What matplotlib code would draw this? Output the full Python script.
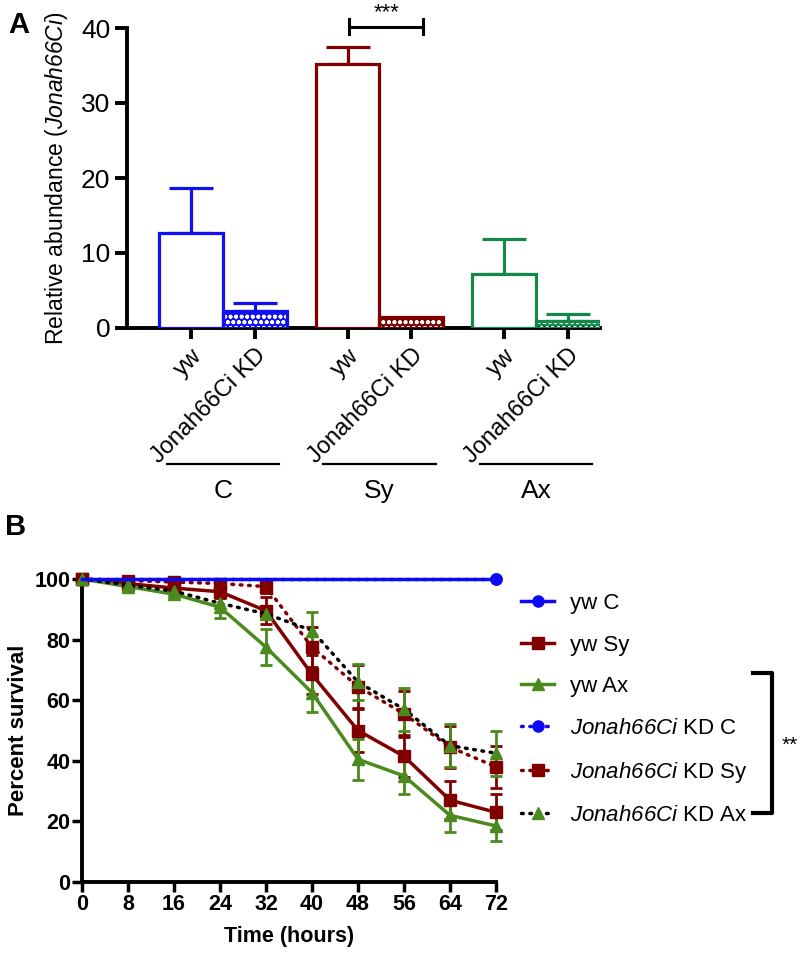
import numpy as np
import matplotlib
matplotlib.use('Agg')
import matplotlib.pyplot as plt
from matplotlib.lines import Line2D

plt.rcParams['font.family'] = ['Liberation Sans', 'DejaVu Sans']
plt.rcParams['mathtext.fontset'] = 'custom'
plt.rcParams['mathtext.rm'] = 'Liberation Sans:italic'
plt.rcParams['mathtext.it'] = 'Liberation Sans:italic'
plt.rcParams['mathtext.bf'] = 'Liberation Sans:bold:italic'
plt.rcParams['hatch.linewidth'] = 1.2

# ---- panel A data ----
groups = ['C', 'Sy', 'Ax']
strain_labels = ['yw', 'Jonah66Ci KD', 'yw', 'Jonah66Ci KD', 'yw', 'Jonah66Ci KD']
abund_mean = [12.6, 2.2, 35.2, 1.5, 7.2, 0.9]
abund_err = [6.1, 1.1, 2.2, 0.0, 4.6, 1.0]
is_kd = [False, True, False, True, False, True]
bar_colors = ['#1010F0', '#1010F0', '#800000', '#800000', '#14874A', '#14874A']

# ---- panel B data ----
hours = [0, 8, 16, 24, 32, 40, 48, 56, 64, 72]
yw_c = [100, 100, 100, 100, 100, 100, 100, 100, 100, 100]
yw_sy = [100, 98.5, 97, 95.8, 89.5, 68.5, 50, 41.5, 27, 23]
yw_sy_err = [0, 0, 0, 2, 4.5, 6.5, 7, 7, 6.3, 6]
yw_ax = [100, 97.5, 95, 90.7, 77.5, 62.5, 40.5, 35, 22, 18.5]
yw_ax_err = [0, 0, 1, 3.5, 6, 6.5, 6.7, 6, 5.5, 5]
kd_c = [100, 100, 100, 100, 100, 100, 100, 100, 100, 100]
kd_sy = [100, 99.5, 99, 98.5, 97.5, 77.5, 64.5, 55.5, 44.5, 38]
kd_sy_err = [0, 0, 0, 1, 2, 6.5, 7, 7.5, 7, 7]
kd_ax = [100, 98, 96, 92, 88.5, 83, 66, 57, 45, 42.5]
kd_ax_err = [0, 0, 0, 0, 1.5, 6, 6, 7, 7, 7.5]

red = '#800000'
greenB = '#4B8A1C'
blue = '#0A0AF5'

fig = plt.figure(figsize=(8, 9.58), dpi=100)

# ================= panel A =================
axA = fig.add_axes([127/800, 1-328/958, (600-127)/800, 300/958])
x_pos = [1, 2, 3.45, 4.45, 5.9, 6.9]
for x, m, e, c, kd in zip(x_pos, abund_mean, abund_err, bar_colors, is_kd):
    if kd:
        axA.bar(x, m, width=1, color=c, lw=0, zorder=2)
        axA.bar(x, m, width=1, facecolor='none', edgecolor='white', hatch='ooo', lw=0, zorder=3)
    axA.bar(x, m, width=1, facecolor='none' if kd else 'white', edgecolor=c, lw=2.3, zorder=4)
    if e > 0:
        axA.errorbar(x, m, yerr=[[0], [e]], fmt='none', ecolor=c, elinewidth=2.3,
                     capsize=16, capthick=2.3, zorder=3)

axA.set_xlim(0, 7.4)
axA.set_ylim(0, 40)
axA.set_yticks([0, 10, 20, 30, 40])
axA.set_xticks(x_pos)
axA.set_xticklabels(strain_labels, rotation=45, ha='right', rotation_mode='anchor', fontsize=17)
axA.tick_params(axis='y', labelsize=19, length=9, width=2.8, pad=3)
axA.tick_params(axis='x', length=8, width=2.8, pad=4)
for s in ['top', 'right']:
    axA.spines[s].set_visible(False)
for s in ['left', 'bottom']:
    axA.spines[s].set_linewidth(2.8)
axA.set_ylabel(r'Relative abundance ($Jonah66Ci$)', fontsize=16.5, labelpad=8)

# significance bracket
bx0, bx1, by = x_pos[2] + 0.03, x_pos[3] + 0.18, 40.2
axA.plot([bx0, bx1], [by, by], color='black', lw=2.2, clip_on=False)
axA.plot([bx0, bx0], [by - 1.0, by + 1.0], color='black', lw=2.2, clip_on=False)
axA.plot([bx1, bx1], [by - 1.0, by + 1.0], color='black', lw=2.2, clip_on=False)
axA.text((bx0 + bx1) / 2, by + 0.4, '***', ha='center', va='bottom', fontsize=16)

# group lines and labels
for i, g in enumerate(groups):
    gc = (x_pos[2*i] + x_pos[2*i + 1]) / 2
    axA.plot([gc - 0.88, gc + 0.88], [-0.455, -0.455], color='black', lw=1.6,
             transform=axA.get_xaxis_transform(), clip_on=False)
    axA.text(gc, -0.545, g, ha='center', va='center', fontsize=19,
             transform=axA.get_xaxis_transform())

# ================= panel B =================
axB = fig.add_axes([82/800, 1-882/958, (496-82)/800, (882-579)/958])
dot = (0, (0.5, 1.9))

series = [
    (yw_sy, yw_sy_err, red, '-', 's', red, 'yw Sy'),
    (yw_ax, yw_ax_err, greenB, '-', '^', greenB, 'yw Ax'),
    (kd_sy, kd_sy_err, red, dot, 's', red, r'$Jonah66Ci$ KD Sy'),
    (kd_ax, kd_ax_err, 'black', dot, '^', greenB, r'$Jonah66Ci$ KD Ax'),
]
handles = {}
hrs = np.array(hours)
for vals, err, lc, ls, mk, mc, lab in series:
    v = np.array(vals)
    e = np.array(err)
    msk = e > 0
    axB.errorbar(hrs[msk], v[msk], yerr=e[msk], fmt='none', ecolor=mc, elinewidth=2,
                 capsize=4.5, capthick=2, zorder=3, clip_on=False)
    ln, = axB.plot(hrs, v, color=lc, ls=ls, lw=2.5, marker=mk, ms=8, mfc=mc, mec=mc,
                   dash_capstyle='round', zorder=4, clip_on=False, label=lab)
    handles[lab] = ln

kdc_line, = axB.plot(hours, kd_c, color=blue, ls=dot, lw=2.5, marker='o', ms=8,
                     markevery=[len(hours) - 1], dash_capstyle='round', zorder=5,
                     clip_on=False, label=r'$Jonah66Ci$ KD C')
ywc_line, = axB.plot(hours, yw_c, color=blue, ls='-', lw=2.5, marker='o', ms=8,
                     markevery=[len(hours) - 1], zorder=6, clip_on=False, label='yw C')

axB.set_xlim(0, 72)
axB.set_ylim(0, 100)
axB.set_xticks(hours)
axB.set_yticks([0, 20, 40, 60, 80, 100])
for s in ['top', 'right']:
    axB.spines[s].set_visible(False)
for s in ['left', 'bottom']:
    axB.spines[s].set_linewidth(2.8)
axB.tick_params(labelsize=15.5, length=7, width=2.5, pad=1.5)
for t in axB.get_xticklabels() + axB.get_yticklabels():
    t.set_fontweight('bold')
axB.set_xlabel('Time (hours)', fontsize=15.5, fontweight='bold', labelpad=8)
axB.set_ylabel('Percent survival', fontsize=16, fontweight='bold', labelpad=4)

leg_handles = [ywc_line, handles['yw Sy'], handles['yw Ax'], kdc_line,
               handles[r'$Jonah66Ci$ KD Sy'], handles[r'$Jonah66Ci$ KD Ax']]
leg_labels = [h.get_label() for h in leg_handles]
fig.legend(leg_handles, leg_labels, loc='upper left', bbox_to_anchor=(512/800, 1-584/958),
           frameon=False, fontsize=16, handlelength=1.5, handletextpad=0.7,
           labelspacing=0.93, borderaxespad=0)

# bracket for significance
bxl, bxr = 753/800, 772/800
byt, byb = 1-673/958, 1-813/958
fig.add_artist(Line2D([bxl, bxr, bxr, bxl], [byt, byt, byb, byb], color='black', lw=3,
                      transform=fig.transFigure))
fig.text(782/800, 1-745/958, '**', fontsize=15, ha='left', va='center')

# panel letters
fig.text(8/800, 1-25/958, 'A', fontsize=21, fontweight='bold', va='center')
fig.text(5/800, 1-527/958, 'B', fontsize=21, fontweight='bold', va='center')

fig.savefig('out.png', dpi=100)
